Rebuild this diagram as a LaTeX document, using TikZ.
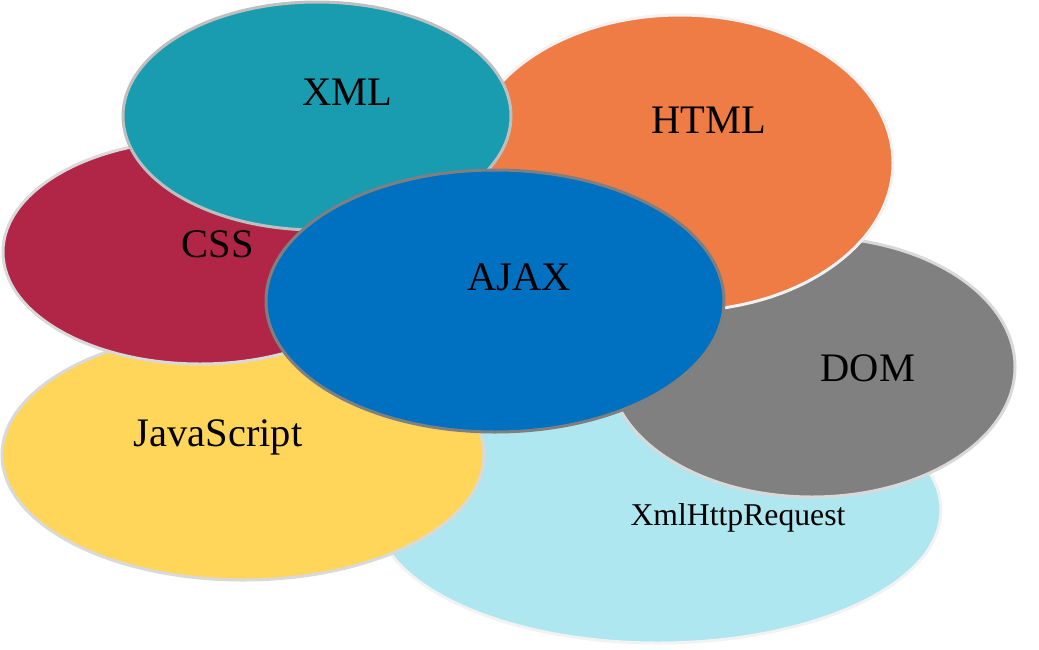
\documentclass[tikz,border=0pt]{standalone}
\usepackage{fontspec}
\setmainfont{Liberation Serif}
\definecolor{cxml}{HTML}{1A9CB0}
\definecolor{chtml}{HTML}{EF7B45}
\definecolor{ccss}{HTML}{B12546}
\definecolor{cajax}{HTML}{0070C0}
\definecolor{cdom}{HTML}{808080}
\definecolor{cjs}{HTML}{FFD65A}
\definecolor{cxhr}{HTML}{AEE7EF}
\definecolor{blight}{HTML}{D9D9D9}
\definecolor{bpale}{HTML}{F2F2F2}
\definecolor{bxml}{HTML}{BFBFBF}
\definecolor{bajax}{HTML}{7F7F7F}
\tikzset{
  blob/.style={line width=3pt},
  lbl/.style={anchor=base, inner sep=0pt, font=\fontsize{40.5}{44}\selectfont},
  lblsmall/.style={anchor=base, inner sep=0pt, font=\fontsize{31.7}{35}\selectfont}
}
\begin{document}
\begin{tikzpicture}[x=1pt,y=-1pt]
\useasboundingbox (0,0) rectangle (1039,649);
% back to front
\path[blob, draw=bpale, fill=cxhr] (658,510) ellipse [x radius=283, y radius=133];
\path[blob, draw=blight, fill=cdom] (812,367) ellipse [x radius=203, y radius=130];
\path[blob, draw=blight, fill=cjs] (243,455) ellipse [x radius=241, y radius=125];
\path[blob, draw=bpale, fill=chtml] (680,163) ellipse [x radius=213, y radius=148];
\path[blob, draw=blight, fill=ccss] (200,252) ellipse [x radius=197, y radius=112];
\path[blob, draw=bxml, fill=cxml] (317,116) ellipse [x radius=194, y radius=114];
\path[blob, draw=bajax, fill=cajax] (495,301) ellipse [x radius=229, y radius=131];
% labels
\node[lbl] (xml) at (347,105) {XML};
\node[lbl] (html) at (709,133) {HTML};
\node[lbl] (css) at (218,257) {CSS};
\node[lbl] (ajax) at (519,290) {AJAX};
\node[lbl] (dom) at (868,381) {DOM};
\node[lbl] (js) at (218,446) {JavaScript};
\node[lblsmall] (xhr) at (738,525) {XmlHttpRequest};
\end{tikzpicture}
\end{document}
